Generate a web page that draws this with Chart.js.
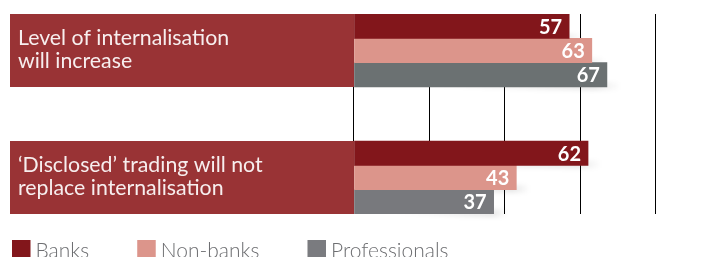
<!DOCTYPE html>
<html>
<head>
<meta charset="utf-8">
<script src="https://cdn.jsdelivr.net/npm/chart.js@4.4.0/dist/chart.umd.min.js"></script>
<style>
  html, body { margin: 0; padding: 0; background: #fff; overflow: hidden; }
  #wrap { position: relative; width: 721px; height: 257px; }
</style>
</head>
<body>
<div id="wrap"><canvas id="myChart"></canvas></div>
<script>
//data.....................
var categories = [
  ["Level of internalisation", "will increase"],
  ["\u2018Disclosed\u2019 trading will not", "replace internalisation"]
];
var seriesNames = ["Banks", "Non-banks", "Professionals"];
var banks = [57, 62];
var nonBanks = [63, 43];
var professionals = [67, 37];
var gridValues = [0, 20, 40, 60, 80];

var barColors = ["#82161b", "#dc958b", ["#6b7172", "#78797d"]];
var legendColors = ["#82161b", "#dc958b", "#7a7b7f"];
var BAR = 24.33;

function points(values) {
  return values.map(function (v, i) { return { x: v, y: i }; });
}

//red label boxes on the left.....................
var labelBoxes = {
  id: "labelBoxes",
  beforeDatasetsDraw: function (chart) {
    var ctx = chart.ctx, xs = chart.scales.x, ys = chart.scales.y;
    var half = chart.data.datasets.length * BAR / 2;
    var x0 = xs.getPixelForValue(0);
    ctx.save();
    categories.forEach(function (lines, i) {
      var cy = ys.getPixelForValue(i);
      ctx.fillStyle = "#993335";
      ctx.fillRect(10, cy - half, x0 - 10, half * 2);
      ctx.fillStyle = "#f7eeee";
      ctx.font = "21.3px Lato";
      ctx.textAlign = "left";
      ctx.textBaseline = "alphabetic";
      ctx.fillText(lines[0], 18, cy - 5.5);
      ctx.fillText(lines[1], 18, cy + 17.8);
    });
    ctx.restore();
  }
};

//soft shadow under each bar.....................
var barShadows = {
  id: "barShadows",
  beforeDatasetsDraw: function (chart) {
    var ctx = chart.ctx;
    ctx.save();
    ctx.filter = "blur(2px)";
    chart.data.datasets.forEach(function (ds, di) {
      chart.getDatasetMeta(di).data.forEach(function (el) {
        var len = el.x - el.base;
        var bottom = el.y + el.height / 2;
        var g = ctx.createLinearGradient(el.base, 0, el.x + 14, 0);
        g.addColorStop(0, "rgba(0,0,0,0)");
        g.addColorStop(0.4, "rgba(0,0,0,0.03)");
        g.addColorStop(0.9, "rgba(0,0,0,0.09)");
        g.addColorStop(1, "rgba(0,0,0,0)");
        ctx.fillStyle = g;
        ctx.beginPath();
        ctx.moveTo(el.base + len * 0.25, bottom - 2);
        ctx.lineTo(el.x + 12, bottom - 5);
        ctx.lineTo(el.x + 12, bottom + 3);
        ctx.quadraticCurveTo(el.x - len * 0.3, bottom + 4, el.base + len * 0.25, bottom - 2);
        ctx.fill();
      });
    });
    ctx.restore();
  }
};

//values inside the bar ends.....................
var valueLabels = {
  id: "valueLabels",
  afterDatasetsDraw: function (chart) {
    var ctx = chart.ctx;
    ctx.save();
    ctx.font = "bold 20px Lato";
    ctx.fillStyle = "#ffffff";
    ctx.textAlign = "right";
    ctx.textBaseline = "middle";
    chart.data.datasets.forEach(function (ds, di) {
      chart.getDatasetMeta(di).data.forEach(function (el, i) {
        ctx.fillText(ds.data[i].x, el.x - 7, el.y + 1);
      });
    });
    ctx.restore();
  }
};

//legend at the bottom.....................
var bottomLegend = {
  id: "bottomLegend",
  afterDraw: function (chart) {
    var ctx = chart.ctx;
    var x = 12, top = 240;
    ctx.save();
    ctx.font = "300 21px Lato";
    ctx.textAlign = "left";
    ctx.textBaseline = "alphabetic";
    chart.data.datasets.forEach(function (ds, i) {
      ctx.fillStyle = legendColors[i];
      ctx.fillRect(x, top, 18.5, 19);
      ctx.fillStyle = "#6d6e71";
      ctx.fillText(ds.label, x + 23.5, 257.5);
      x += 23.5 + ctx.measureText(ds.label).width + 48;
    });
    ctx.restore();
  }
};

new Chart("myChart", {
  type: "bar",
  data: {
    datasets: [
      { label: seriesNames[0], data: points(banks), backgroundColor: barColors[0] },
      { label: seriesNames[1], data: points(nonBanks), backgroundColor: barColors[1] },
      { label: seriesNames[2], data: points(professionals), backgroundColor: barColors[2] }
    ]
  },
  options: {
    indexAxis: "y",
    responsive: true,
    maintainAspectRatio: false,
    animation: false,
    barThickness: BAR,
    borderWidth: 0,
    layout: { padding: { top: 14, bottom: 43, left: 0, right: 0 } },
    plugins: {
      legend: { display: false },
      tooltip: { enabled: false }
    },
    scales: {
      x: {
        type: "linear",
        bounds: "data",
        offset: false,
        min: -93.77,
        max: 97.22,
        afterBuildTicks: function (scale) {
          scale.ticks = gridValues.map(function (v) { return { value: v }; });
        },
        grid: { color: "#000000", lineWidth: 1, drawTicks: false },
        border: { display: false },
        ticks: { display: false }
      },
      y: {
        type: "linear",
        bounds: "data",
        offset: false,
        reverse: true,
        min: -0.2874,
        max: 1.2874,
        display: false
      }
    }
  },
  plugins: [labelBoxes, barShadows, valueLabels, bottomLegend]
});
</script>
</body>
</html>
